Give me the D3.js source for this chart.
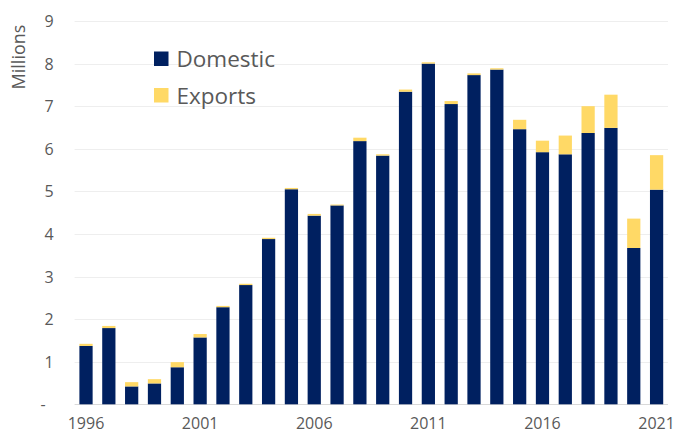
<!DOCTYPE html>
<html>
<head>
<meta charset="utf-8">
<script src="https://cdn.jsdelivr.net/npm/d3@7"></script>
<style>
  html, body { margin: 0; padding: 0; background: #fff; }
  svg { display: block; }
  text { font-family: "Open Sans", "Liberation Sans", sans-serif; fill: #595959; }
</style>
</head>
<body>
<svg id="chart" width="676" height="434"></svg>
<script>
// Annual volumes, millions
const years = [1996, 1997, 1998, 1999, 2000, 2001, 2002, 2003, 2004, 2005, 2006, 2007, 2008,
               2009, 2010, 2011, 2012, 2013, 2014, 2015, 2016, 2017, 2018, 2019, 2020, 2021];
const domestic = [1.37, 1.79, 0.42, 0.49, 0.87, 1.57, 2.28, 2.80, 3.88, 5.05, 4.43, 4.67, 6.18,
                  5.84, 7.34, 8.00, 7.05, 7.73, 7.86, 6.46, 5.92, 5.87, 6.37, 6.49, 3.67, 5.04];
const exports = [0.05, 0.05, 0.10, 0.10, 0.12, 0.08, 0.03, 0.03, 0.03, 0.03, 0.04, 0.02, 0.08,
                 0.03, 0.05, 0.03, 0.07, 0.04, 0.03, 0.22, 0.27, 0.44, 0.63, 0.78, 0.69, 0.81];
const yTicks = [0, 1, 2, 3, 4, 5, 6, 7, 8, 9];
const xTickYears = [1996, 2001, 2006, 2011, 2016, 2021];
const seriesNames = ["Domestic", "Exports"];
const colors = { Domestic: "#002060", Exports: "#FFD966" };

const svg = d3.select("#chart");
const margin = { left: 74.6, right: 8, top: 21, bottom: 29.7 };
const W = 676, H = 434;

const x = d3.scaleBand()
  .domain(years)
  .range([margin.left, W - margin.right])
  .paddingInner(0.42)
  .paddingOuter(0.21);

const y = d3.scaleLinear()
  .domain([0, 9])
  .range([H - margin.bottom, margin.top]);

// Gridlines
svg.append("g")
  .selectAll("line")
  .data(yTicks)
  .join("line")
  .attr("x1", margin.left)
  .attr("x2", W - margin.right)
  .attr("y1", d => Math.round(y(d)) + 0.5)
  .attr("y2", d => Math.round(y(d)) + 0.5)
  .attr("stroke", d => d === 0 ? "#d9d9d9" : "#eeeeee")
  .attr("stroke-width", 1);

// Y axis labels
const yAxis = d3.axisLeft(y)
  .tickValues(yTicks)
  .tickSize(0)
  .tickPadding(0)
  .tickFormat(d => d === 0 ? "-" : d3.format("d")(d));
svg.append("g")
  .attr("transform", `translate(${margin.left - 21},0)`)
  .call(yAxis)
  .call(g => g.select(".domain").remove())
  .call(g => g.selectAll("text")
    .attr("font-size", 16)
    .attr("fill", "#595959")
    .attr("font-family", "Open Sans, sans-serif")
    .attr("dy", "0.35em")
    .attr("dx", d => d === 0 ? -8 : 0));

// X axis labels
const xAxis = d3.axisBottom(x)
  .tickValues(xTickYears)
  .tickSize(0)
  .tickPadding(0);
svg.append("g")
  .attr("transform", `translate(0,${H - 5})`)
  .call(xAxis)
  .call(g => g.select(".domain").remove())
  .call(g => g.selectAll("text")
    .attr("font-size", 16)
    .attr("fill", "#595959")
    .attr("font-family", "Open Sans, sans-serif")
    .attr("y", 0)
    .attr("dy", 0));

// Y axis title
svg.append("text")
  .attr("transform", `translate(25,57) rotate(-90)`)
  .attr("text-anchor", "middle")
  .attr("font-size", 18)
  .text("Millions");

// Stacked bars
const table = years.map((yr, i) => ({ year: yr, Domestic: domestic[i], Exports: exports[i] }));
const stacked = d3.stack().keys(seriesNames)(table);

svg.append("g")
  .selectAll("g")
  .data(stacked)
  .join("g")
  .attr("fill", d => colors[d.key])
  .selectAll("rect")
  .data(d => d)
  .join("rect")
  .attr("x", d => x(d.data.year))
  .attr("width", x.bandwidth())
  .attr("y", d => y(d[1]))
  .attr("height", d => y(d[0]) - y(d[1]));

// Legend
const legend = svg.append("g").attr("transform", "translate(154,51.5)");
const item = legend.selectAll("g")
  .data(seriesNames)
  .join("g")
  .attr("transform", (d, i) => `translate(0,${i * 36.5})`);
item.append("rect")
  .attr("width", 14.5)
  .attr("height", 14.5)
  .attr("fill", d => colors[d]);
item.append("text")
  .attr("x", 22.5)
  .attr("y", 7.5)
  .attr("dy", "0.36em")
  .attr("font-size", 22.5)
  .text(d => d);
</script>
</body>
</html>
